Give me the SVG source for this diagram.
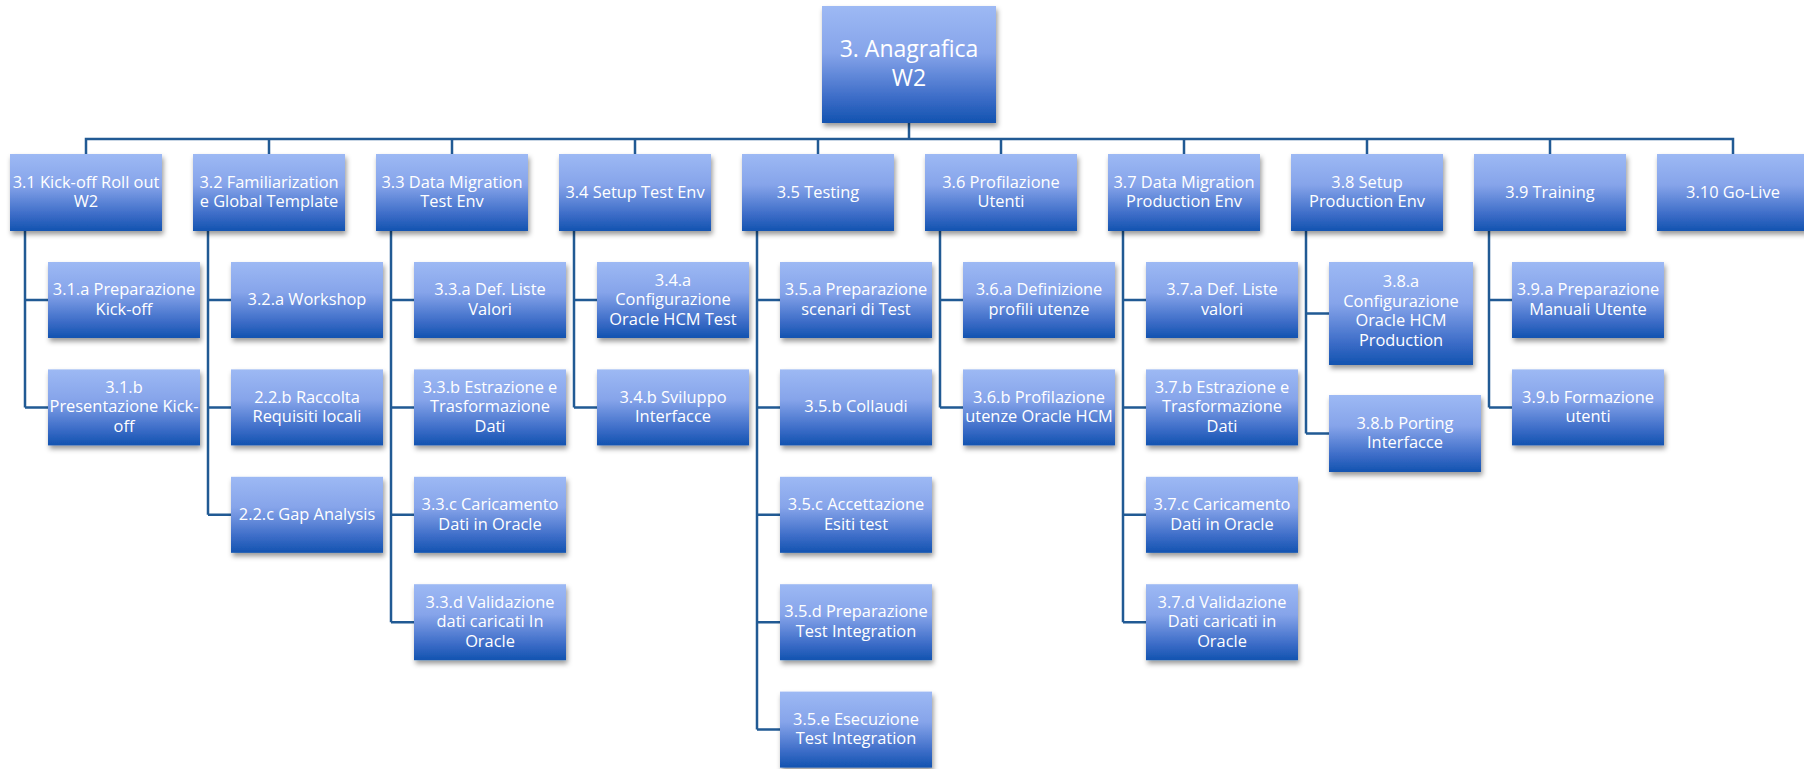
<svg xmlns="http://www.w3.org/2000/svg" width="1804" height="769" viewBox="0 0 1804 769">
  <defs>
    <linearGradient id="boxFill" x1="0" y1="0" x2="0" y2="1">
      <stop offset="0" stop-color="#9DB9F4"/>
      <stop offset="0.4" stop-color="#86A4EA"/>
      <stop offset="0.78" stop-color="#3D6DC8"/>
      <stop offset="1" stop-color="#1253B0"/>
    </linearGradient>
    <filter id="shadow" x="-10%" y="-10%" width="125%" height="135%">
      <feDropShadow dx="1.5" dy="3.5" stdDeviation="2.5" flood-color="#000" flood-opacity="0.4"/>
    </filter>
  </defs>
  <style>
    .box { fill: url(#boxFill); filter: url(#shadow); }
    .lbl { font-family: "Open Sans", "Noto Sans", "DejaVu Sans", sans-serif; font-size: 16.4px; fill: #FFFFFF; text-anchor: middle; }
    .big { font-size: 23px; }
    .wire { stroke: #215A94; stroke-width: 2.5; fill: none; }
  </style>

  <rect width="1804" height="769" fill="#FFFFFF"/>

  <!-- connectors -->
  <g id="connectors" class="wire">
    <path d="M909,123 V139"/>
    <path d="M86,154 V139 H1733 V154"/>
    <path d="M269,139 V154 M452,139 V154 M635,139 V154 M818,139 V154 M1001,139 V154 M1184,139 V154 M1367,139 V154 M1550,139 V154"/>
    <!-- 3.1 -->
    <path d="M25,231 V407.4 M25,300 H48 M25,407.4 H48"/>
    <!-- 3.2 -->
    <path d="M208,231 V514.8 M208,300 H231 M208,407.4 H231 M208,514.8 H231"/>
    <!-- 3.3 -->
    <path d="M391,231 V622.2 M391,300 H414 M391,407.4 H414 M391,514.8 H414 M391,622.2 H414"/>
    <!-- 3.4 -->
    <path d="M574,231 V407.4 M574,300 H597 M574,407.4 H597"/>
    <!-- 3.5 -->
    <path d="M757,231 V729.6 M757,300 H780 M757,407.4 H780 M757,514.8 H780 M757,622.2 H780 M757,729.6 H780"/>
    <!-- 3.6 -->
    <path d="M940,231 V407.4 M940,300 H963 M940,407.4 H963"/>
    <!-- 3.7 -->
    <path d="M1123,231 V622.2 M1123,300 H1146 M1123,407.4 H1146 M1123,514.8 H1146 M1123,622.2 H1146"/>
    <!-- 3.8 -->
    <path d="M1306,231 V433.5 M1306,313.5 H1329 M1306,433.5 H1329"/>
    <!-- 3.9 -->
    <path d="M1489,231 V407.4 M1489,300 H1512 M1489,407.4 H1512"/>
  </g>

  <!-- root -->
  <g id="n3">
    <rect class="box" x="822" y="6" width="174" height="117"/>
    <text class="lbl big"><tspan x="909" y="57.3">3. Anagrafica</tspan><tspan x="909" y="86">W2</tspan></text>
  </g>

  <!-- second level -->
  <g id="n3_1">
    <rect class="box" x="10" y="154" width="152" height="77"/>
    <text class="lbl"><tspan x="86" y="187.75">3.1 Kick-off Roll out</tspan><tspan x="86" y="207.25">W2</tspan></text>
  </g>
  <g id="n3_2">
    <rect class="box" x="193" y="154" width="152" height="77"/>
    <text class="lbl"><tspan x="269" y="187.75">3.2 Familiarization</tspan><tspan x="269" y="207.25">e Global Template</tspan></text>
  </g>
  <g id="n3_3">
    <rect class="box" x="376" y="154" width="152" height="77"/>
    <text class="lbl"><tspan x="452" y="187.75">3.3 Data Migration</tspan><tspan x="452" y="207.25">Test Env</tspan></text>
  </g>
  <g id="n3_4">
    <rect class="box" x="559" y="154" width="152" height="77"/>
    <text class="lbl"><tspan x="635" y="197.5">3.4 Setup Test Env</tspan></text>
  </g>
  <g id="n3_5">
    <rect class="box" x="742" y="154" width="152" height="77"/>
    <text class="lbl"><tspan x="818" y="197.5">3.5 Testing</tspan></text>
  </g>
  <g id="n3_6">
    <rect class="box" x="925" y="154" width="152" height="77"/>
    <text class="lbl"><tspan x="1001" y="187.75">3.6 Profilazione</tspan><tspan x="1001" y="207.25">Utenti</tspan></text>
  </g>
  <g id="n3_7">
    <rect class="box" x="1108" y="154" width="152" height="77"/>
    <text class="lbl"><tspan x="1184" y="187.75">3.7 Data Migration</tspan><tspan x="1184" y="207.25">Production Env</tspan></text>
  </g>
  <g id="n3_8">
    <rect class="box" x="1291" y="154" width="152" height="77"/>
    <text class="lbl"><tspan x="1367" y="187.75">3.8 Setup</tspan><tspan x="1367" y="207.25">Production Env</tspan></text>
  </g>
  <g id="n3_9">
    <rect class="box" x="1474" y="154" width="152" height="77"/>
    <text class="lbl"><tspan x="1550" y="197.5">3.9 Training</tspan></text>
  </g>
  <g id="n3_10">
    <rect class="box" x="1657" y="154" width="152" height="77"/>
    <text class="lbl"><tspan x="1733" y="197.5">3.10 Go-Live</tspan></text>
  </g>

  <!-- 3.1 children -->
  <g id="n3_1_a">
    <rect class="box" x="48" y="262" width="152" height="76"/>
    <text class="lbl"><tspan x="124" y="295.25">3.1.a Preparazione</tspan><tspan x="124" y="314.75">Kick-off</tspan></text>
  </g>
  <g id="n3_1_b">
    <rect class="box" x="48" y="369.4" width="152" height="76"/>
    <text class="lbl"><tspan x="124" y="392.9">3.1.b</tspan><tspan x="124" y="412.4">Presentazione Kick-</tspan><tspan x="124" y="431.9">off</tspan></text>
  </g>

  <!-- 3.2 children -->
  <g id="n3_2_a">
    <rect class="box" x="231" y="262" width="152" height="76"/>
    <text class="lbl"><tspan x="307" y="305">3.2.a Workshop</tspan></text>
  </g>
  <g id="n2_2_b">
    <rect class="box" x="231" y="369.4" width="152" height="76"/>
    <text class="lbl"><tspan x="307" y="402.65">2.2.b Raccolta</tspan><tspan x="307" y="422.15">Requisiti locali</tspan></text>
  </g>
  <g id="n2_2_c">
    <rect class="box" x="231" y="476.8" width="152" height="76"/>
    <text class="lbl"><tspan x="307" y="519.8">2.2.c Gap Analysis</tspan></text>
  </g>

  <!-- 3.3 children -->
  <g id="n3_3_a">
    <rect class="box" x="414" y="262" width="152" height="76"/>
    <text class="lbl"><tspan x="490" y="295.25">3.3.a Def. Liste</tspan><tspan x="490" y="314.75">Valori</tspan></text>
  </g>
  <g id="n3_3_b">
    <rect class="box" x="414" y="369.4" width="152" height="76"/>
    <text class="lbl"><tspan x="490" y="392.9">3.3.b Estrazione e</tspan><tspan x="490" y="412.4">Trasformazione</tspan><tspan x="490" y="431.9">Dati</tspan></text>
  </g>
  <g id="n3_3_c">
    <rect class="box" x="414" y="476.8" width="152" height="76"/>
    <text class="lbl"><tspan x="490" y="510.05">3.3.c Caricamento</tspan><tspan x="490" y="529.55">Dati in Oracle</tspan></text>
  </g>
  <g id="n3_3_d">
    <rect class="box" x="414" y="584.2" width="152" height="76"/>
    <text class="lbl"><tspan x="490" y="607.7">3.3.d Validazione</tspan><tspan x="490" y="627.2">dati caricati In</tspan><tspan x="490" y="646.7">Oracle</tspan></text>
  </g>

  <!-- 3.4 children -->
  <g id="n3_4_a">
    <rect class="box" x="597" y="262" width="152" height="76"/>
    <text class="lbl"><tspan x="673" y="285.5">3.4.a</tspan><tspan x="673" y="305">Configurazione</tspan><tspan x="673" y="324.5">Oracle HCM Test</tspan></text>
  </g>
  <g id="n3_4_b">
    <rect class="box" x="597" y="369.4" width="152" height="76"/>
    <text class="lbl"><tspan x="673" y="402.65">3.4.b Sviluppo</tspan><tspan x="673" y="422.15">Interfacce</tspan></text>
  </g>

  <!-- 3.5 children -->
  <g id="n3_5_a">
    <rect class="box" x="780" y="262" width="152" height="76"/>
    <text class="lbl"><tspan x="856" y="295.25">3.5.a Preparazione</tspan><tspan x="856" y="314.75">scenari di Test</tspan></text>
  </g>
  <g id="n3_5_b">
    <rect class="box" x="780" y="369.4" width="152" height="76"/>
    <text class="lbl"><tspan x="856" y="412.4">3.5.b Collaudi</tspan></text>
  </g>
  <g id="n3_5_c">
    <rect class="box" x="780" y="476.8" width="152" height="76"/>
    <text class="lbl"><tspan x="856" y="510.05">3.5.c Accettazione</tspan><tspan x="856" y="529.55">Esiti test</tspan></text>
  </g>
  <g id="n3_5_d">
    <rect class="box" x="780" y="584.2" width="152" height="76"/>
    <text class="lbl"><tspan x="856" y="617.45">3.5.d Preparazione</tspan><tspan x="856" y="636.95">Test Integration</tspan></text>
  </g>
  <g id="n3_5_e">
    <rect class="box" x="780" y="691.6" width="152" height="76"/>
    <text class="lbl"><tspan x="856" y="724.85">3.5.e Esecuzione</tspan><tspan x="856" y="744.35">Test Integration</tspan></text>
  </g>

  <!-- 3.6 children -->
  <g id="n3_6_a">
    <rect class="box" x="963" y="262" width="152" height="76"/>
    <text class="lbl"><tspan x="1039" y="295.25">3.6.a Definizione</tspan><tspan x="1039" y="314.75">profili utenze</tspan></text>
  </g>
  <g id="n3_6_b">
    <rect class="box" x="963" y="369.4" width="152" height="76"/>
    <text class="lbl"><tspan x="1039" y="402.65">3.6.b Profilazione</tspan><tspan x="1039" y="422.15">utenze Oracle HCM</tspan></text>
  </g>

  <!-- 3.7 children -->
  <g id="n3_7_a">
    <rect class="box" x="1146" y="262" width="152" height="76"/>
    <text class="lbl"><tspan x="1222" y="295.25">3.7.a Def. Liste</tspan><tspan x="1222" y="314.75">valori</tspan></text>
  </g>
  <g id="n3_7_b">
    <rect class="box" x="1146" y="369.4" width="152" height="76"/>
    <text class="lbl"><tspan x="1222" y="392.9">3.7.b Estrazione e</tspan><tspan x="1222" y="412.4">Trasformazione</tspan><tspan x="1222" y="431.9">Dati</tspan></text>
  </g>
  <g id="n3_7_c">
    <rect class="box" x="1146" y="476.8" width="152" height="76"/>
    <text class="lbl"><tspan x="1222" y="510.05">3.7.c Caricamento</tspan><tspan x="1222" y="529.55">Dati in Oracle</tspan></text>
  </g>
  <g id="n3_7_d">
    <rect class="box" x="1146" y="584.2" width="152" height="76"/>
    <text class="lbl"><tspan x="1222" y="607.7">3.7.d Validazione</tspan><tspan x="1222" y="627.2">Dati caricati in</tspan><tspan x="1222" y="646.7">Oracle</tspan></text>
  </g>

  <!-- 3.8 children -->
  <g id="n3_8_a">
    <rect class="box" x="1329" y="262" width="144" height="103"/>
    <text class="lbl"><tspan x="1401" y="287.25">3.8.a</tspan><tspan x="1401" y="306.75">Configurazione</tspan><tspan x="1401" y="326.25">Oracle HCM</tspan><tspan x="1401" y="345.75">Production</tspan></text>
  </g>
  <g id="n3_8_b">
    <rect class="box" x="1329" y="395" width="152" height="77"/>
    <text class="lbl"><tspan x="1405" y="428.75">3.8.b Porting</tspan><tspan x="1405" y="448.25">Interfacce</tspan></text>
  </g>

  <!-- 3.9 children -->
  <g id="n3_9_a">
    <rect class="box" x="1512" y="262" width="152" height="76"/>
    <text class="lbl"><tspan x="1588" y="295.25">3.9.a Preparazione</tspan><tspan x="1588" y="314.75">Manuali Utente</tspan></text>
  </g>
  <g id="n3_9_b">
    <rect class="box" x="1512" y="369.4" width="152" height="76"/>
    <text class="lbl"><tspan x="1588" y="402.65">3.9.b Formazione</tspan><tspan x="1588" y="422.15">utenti</tspan></text>
  </g>
</svg>
